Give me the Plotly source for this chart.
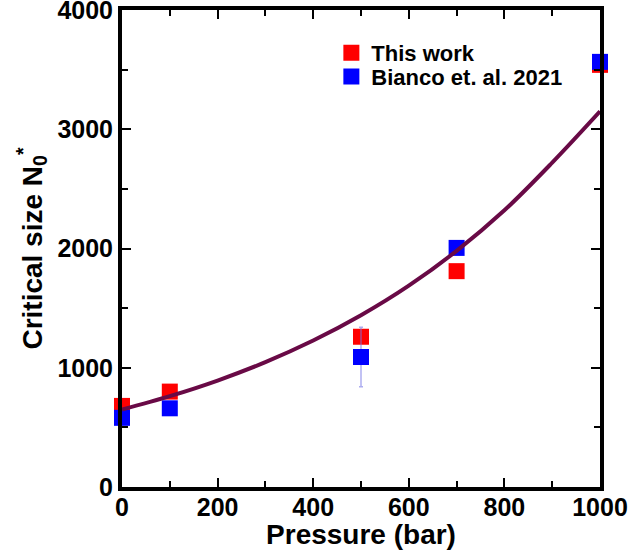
import plotly.graph_objects as go

pressure = [0, 100, 500, 700, 1000]
this_work = [680, 800, 1260, 1810, 3540]
bianco = [580, 660, 1090, 2005, 3565]
bianco_err_plus = [0, 0, 250, 0, 0]
bianco_err_minus = [0, 0, 250, 0, 0]

fit_p = [0, 100, 200, 300, 400, 500, 600, 700, 800, 900, 1000]
fit_n = [650, 762, 893, 1047, 1228, 1440, 1688, 1980, 2320, 2720, 3150]

font_family = "Liberation Sans, Arial, Helvetica, sans-serif"

fig = go.Figure()
fig.add_trace(go.Scatter(
    x=pressure, y=this_work, mode="markers", name="This work", legend="legend",
    marker=dict(symbol="square", size=16, color="rgb(255,0,0)"),
    cliponaxis=False,
))
fig.add_trace(go.Scatter(
    x=pressure, y=bianco, mode="markers", name="Bianco et. al. 2021", legend="legend2",
    marker=dict(symbol="square", size=16, color="rgb(0,0,255)"),
    error_y=dict(type="data", symmetric=False, array=bianco_err_plus,
                 arrayminus=bianco_err_minus, color="rgba(120,120,230,0.6)",
                 thickness=1.5, width=2),
    cliponaxis=False,
))
fig.add_trace(go.Scatter(
    x=fit_p, y=fit_n, mode="lines", showlegend=False,
    line=dict(color="rgb(105,10,70)", width=4, shape="spline"),
))

axis_common = dict(
    showline=True, linecolor="black", linewidth=4, mirror="allticks",
    ticks="inside", tickcolor="black", tickwidth=1.5, ticklen=9,
    showgrid=False, zeroline=False, automargin=False,
    ticklabeloverflow="allow",
    tickfont=dict(family=font_family, size=25, color="black", weight="bold"),
)

legend_font = dict(family=font_family, size=22, color="black", weight="bold")

fig.update_layout(
    width=629, height=550,
    margin=dict(l=122, r=29, t=10, b=63),
    plot_bgcolor="white", paper_bgcolor="white",
    font=dict(family=font_family, color="black"),
    xaxis=dict(range=[0, 1000], dtick=200, tick0=0, ticklabelstandoff=-5,
               minor=dict(ticks="inside", dtick=100, ticklen=6, tickcolor="black", tickwidth=1.5),
               title=dict(text="Pressure (bar)", standoff=0,
                          font=dict(family=font_family, size=28, weight="bold")),
               **axis_common),
    yaxis=dict(range=[0, 4000], dtick=1000, tick0=0,
               minor=dict(ticks="inside", dtick=500, ticklen=6, tickcolor="black", tickwidth=1.5),
               title=dict(text="Critical size N<sub>0</sub><sup>*</sup>", standoff=8,
                          font=dict(family=font_family, size=28, weight="bold")),
               **axis_common),
    legend=dict(x=0.438, y=0.910, xanchor="left", yanchor="middle",
                bgcolor="rgba(0,0,0,0)", font=legend_font),
    legend2=dict(x=0.438, y=0.860, xanchor="left", yanchor="middle",
                 bgcolor="rgba(0,0,0,0)", font=legend_font),
)

fig.write_html("out.html")
